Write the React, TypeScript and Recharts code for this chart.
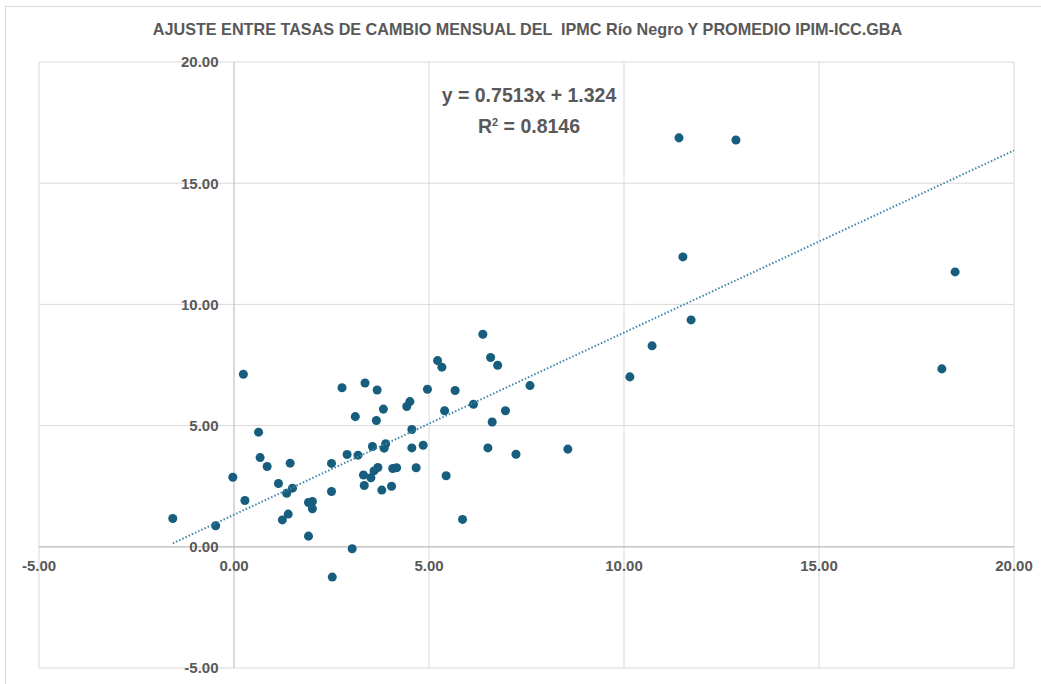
import React from 'react';
import {
  ScatterChart, Scatter, XAxis, YAxis, ZAxis, CartesianGrid, ReferenceLine, ReferenceDot,
} from 'recharts';

// --- DATA ---

// promedio IPIM-ICC.GBA (eje X) e IPMC Río Negro (eje Y), tasas mensuales %
const xValues = [
  -1.57, -0.47, -0.03, 0.24, 0.28, 0.63, 0.67, 0.85, 1.14, 1.24,
  1.35, 1.39, 1.44, 1.5, 1.91, 1.91, 2.01, 2.01, 2.5, 2.5,
  2.52, 2.77, 2.9, 3.03, 3.11, 3.18, 3.32, 3.34, 3.36, 3.51,
  3.55, 3.59, 3.65, 3.67, 3.69, 3.79, 3.83, 3.85, 3.89, 4.04,
  4.07, 4.17, 4.43, 4.51, 4.56, 4.56, 4.67, 4.85, 4.96, 5.22,
  5.33, 5.4, 5.44, 5.67, 5.86, 6.14, 6.38, 6.51, 6.58, 6.62,
  6.76, 6.96, 7.23, 7.59, 8.56, 10.15, 10.72, 11.41, 11.51, 11.72,
  12.87, 18.15, 18.49,
];
const yValues = [
  1.17, 0.87, 2.87, 7.12, 1.91, 4.73, 3.68, 3.31, 2.61, 1.11,
  2.21, 1.35, 3.45, 2.42, 0.44, 1.83, 1.87, 1.57, 3.44, 2.28,
  -1.25, 6.56, 3.81, -0.08, 5.37, 3.78, 2.96, 2.53, 6.76, 2.85,
  4.14, 3.13, 5.21, 6.47, 3.27, 2.34, 5.68, 4.07, 4.25, 2.5,
  3.23, 3.26, 5.79, 5.99, 4.84, 4.08, 3.26, 4.19, 6.5, 7.68,
  7.41, 5.61, 2.93, 6.45, 1.13, 5.88, 8.77, 4.08, 7.81, 5.15,
  7.49, 5.61, 3.82, 6.65, 4.03, 7.01, 8.29, 16.87, 11.96, 9.36,
  16.78, 7.34, 11.34,
];

// tendencia lineal: y = 0.7513x + 1.324
const slope = 0.7513;
const intercept = 1.324;
const trendX = [-1.57, 20];

const ticks = [-5, 0, 5, 10, 15, 20];

const points = xValues.map((x, i) => ({ x, y: yValues[i] }));
const trend = trendX.map(x => ({ x, y: slope * x + intercept }));

const GRAY = '#595959';
const FONT = "'Liberation Sans', Arial, sans-serif";

export default function App() {
  return (
    <div style={{ position: 'absolute', left: 0, top: 0, width: 1041, height: 684, background: '#fff', overflow: 'hidden', fontFamily: FONT }}>
      {/* marco del gráfico */}
      <div style={{ position: 'absolute', left: 5, top: 6, width: 1100, height: 720, border: '1px solid #d9d9d9' }} />

      <div style={{ position: 'absolute', left: 0, top: 20, width: 1055, textAlign: 'center', fontSize: 16.2, fontWeight: 700, color: GRAY, whiteSpace: 'pre' }}>
        {'AJUSTE ENTRE TASAS DE CAMBIO MENSUAL DEL  IPMC Río Negro Y PROMEDIO IPIM-ICC.GBA'}
      </div>

      <div style={{ position: 'absolute', left: 0, top: 0 }}>
        <ScatterChart width={1041} height={684} margin={{ top: 62, right: 27, bottom: 16, left: 39 }}>
          <CartesianGrid stroke="#d9d9d9" strokeWidth={1} />
          <XAxis type="number" dataKey="x" domain={[-5, 20]} ticks={ticks} hide />
          <YAxis type="number" dataKey="y" domain={[-5, 20]} ticks={ticks} hide />
          <ZAxis range={[72, 72]} />

          <ReferenceLine x={0} stroke="#c8c8c8" />
          <ReferenceLine y={0} stroke="#c8c8c8" strokeWidth={1.5} />

          {/* etiquetas de los ejes, cruzando en el origen */}
          {ticks.map(t => (
            <ReferenceDot key={'y' + t} x={0} y={t} r={0.5} fill="none" stroke="none"
              label={{ value: t.toFixed(2), position: 'left', offset: 15, fill: GRAY, fontSize: 15, fontWeight: 700, fontFamily: FONT }} />
          ))}
          {ticks.map(t => (
            <ReferenceDot key={'x' + t} x={t} y={0} r={0.5} fill="none" stroke="none"
              label={{ value: t.toFixed(2), position: 'bottom', offset: 13, fill: GRAY, fontSize: 15, fontWeight: 700, fontFamily: FONT }} />
          ))}

          <Scatter data={points} fill="#175e7e" shape="circle" isAnimationActive={false} />
          <Scatter data={trend} line={{ stroke: '#3f86ab', strokeWidth: 2, strokeDasharray: '1.5 2' }}
            shape={() => null} isAnimationActive={false} />
        </ScatterChart>
      </div>

      <div style={{ position: 'absolute', left: 409, top: 82, width: 240, textAlign: 'center', fontSize: 19.5, fontWeight: 700, color: GRAY, lineHeight: '27px' }}>
        <div>y = 0.7513x + 1.324</div>
        <div>R<sup style={{ fontSize: 11, verticalAlign: 7 }}>2</sup> = 0.8146</div>
      </div>
    </div>
  );
}
